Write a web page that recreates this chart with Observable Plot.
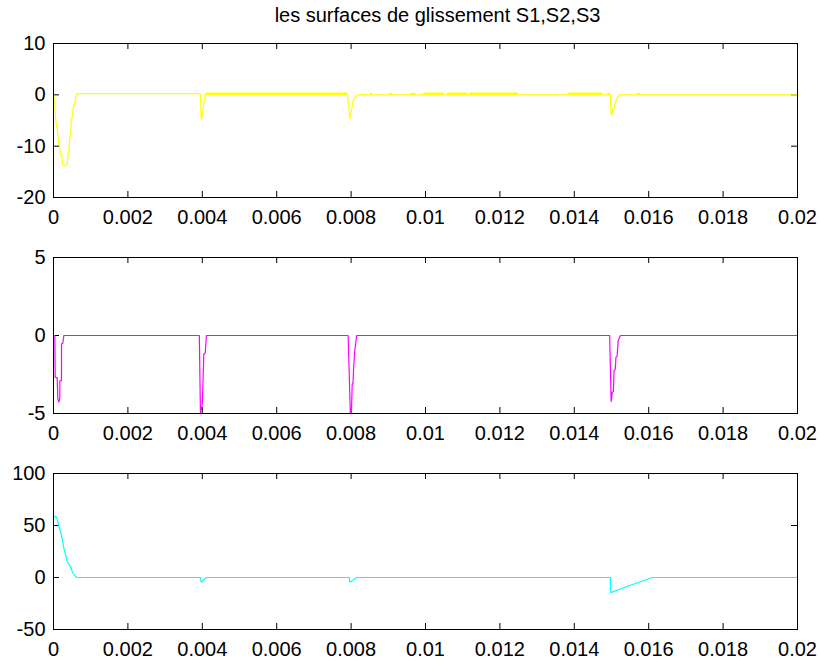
<!DOCTYPE html>
<html>
<head>
<meta charset="utf-8">
<script src="https://cdn.jsdelivr.net/npm/d3@7"></script>
<script src="https://cdn.jsdelivr.net/npm/@observablehq/plot@0.6"></script>
<style>
  body { margin: 0; background: #fff; }
  #fig { position: relative; width: 821px; height: 659px; background: #fff;
         font-family: "Liberation Sans", Arial, sans-serif; }
  #title { box-sizing: border-box; width: 821px; height: 26px; padding-top: 5px;
           padding-left: 54px; text-align: center; font-size: 20px; line-height: 20px; color: #000; white-space: nowrap; }
  #fig svg { display: block; }
</style>
</head>
<body>
<div id="fig">
  <div id="title">les surfaces de glissement S1,S2,S3</div>
</div>
<script>
// Time axis (seconds)
const xTicks = [0, 0.002, 0.004, 0.006, 0.008, 0.01, 0.012, 0.014, 0.016, 0.018, 0.02];
const xTickLabels = ["0", "0.002", "0.004", "0.006", "0.008", "0.01", "0.012", "0.014", "0.016", "0.018", "0.02"];

// S1 sliding surface
const s1Time  = [0, 0.00004, 0.00004, 0.00008, 0.00010, 0.00014, 0.00016, 0.00018, 0.00022, 0.00024, 0.00030, 0.00037, 0.00039, 0.00041, 0.00044, 0.00046, 0.00048, 0.00050, 0.00054, 0.00056, 0.00060, 0.00062,
                 0.00395, 0.00397, 0.00399, 0.00401, 0.00403, 0.00404, 0.00406, 0.00408, 0.00411,
                 0.00790, 0.00797, 0.00799, 0.00801, 0.00803, 0.00806, 0.00810, 0.00816,
                 0.01497, 0.01499, 0.01502, 0.01504, 0.01507, 0.01510, 0.01514, 0.01520, 0.02];
const s1Value = [0, -1.5, -3.0, -6.4, -6.4, -9.6, -9.6, -11.6, -11.6, -13.5, -13.8, -13.5, -11.6, -11.6, -8.0, -8.0, -4.6, -4.6, -2.0, -2.0, -0.5, 0.25,
                 0.25, -4.7, -4.5, -2.8, -2.8, -1.2, -1.2, 0.1, 0.2,
                 0.1, -4.7, -4.2, -3.0, -2.2, -1.0, -0.5, 0.0,
                 0.0, -3.96, -3.5, -2.6, -2.6, -1.5, -0.8, 0.0, 0.0];
// S1 chattering intervals around zero (start, end, low, high)
const s1ChatterStart = [0.00411, 0.00852, 0.00903, 0.00960, 0.00995, 0.01060, 0.01120, 0.01385, 0.01490, 0.01570];
const s1ChatterEnd   = [0.00790, 0.00858, 0.00912, 0.00975, 0.01050, 0.01115, 0.01250, 0.01476, 0.01497, 0.01578];
const s1ChatterLow   = [-0.1, -0.05, -0.05, -0.05, -0.1, -0.1, -0.1, -0.1, -0.1, -0.05];
const s1ChatterHigh  = [0.35, 0.3, 0.3, 0.3, 0.35, 0.35, 0.35, 0.35, 0.3, 0.3];

// S2 sliding surface
const s2Time  = [0, 0.000036, 0.000045, 0.00008, 0.00010, 0.000116, 0.000143, 0.00017, 0.00017, 0.000215, 0.000215, 0.00025, 0.000278,
                 0.00392, 0.00395, 0.00400, 0.00402, 0.00404, 0.00408, 0.00411,
                 0.00792, 0.00798, 0.00801, 0.00803, 0.00805, 0.00807, 0.00810, 0.00815,
                 0.01495, 0.01499, 0.01501, 0.01502, 0.01505, 0.01507, 0.01510, 0.01512, 0.01515, 0.01518, 0.01524, 0.02];
const s2Value = [0, 0, -2.67, -2.7, -2.7, -4.06, -4.27, -4.0, -2.9, -2.9, -0.53, -0.5, 0,
                 0, -5.0, -4.4, -2.9, -1.2, -1.1, 0,
                 0, -5.0, -4.9, -3.1, -3.1, -2.0, -0.96, 0,
                 0, -4.23, -3.9, -3.63, -3.6, -2.24, -2.2, -1.39, -1.35, -0.32, 0, 0];

// S3 sliding surface
const s3Time  = [0, 0.00006, 0.00010, 0.00014, 0.00019, 0.00024, 0.00028, 0.00033, 0.00037, 0.00042, 0.00046, 0.00050, 0.00053, 0.00058, 0.00062,
                 0.00395, 0.00397, 0.00411,
                 0.00795, 0.00797, 0.00815,
                 0.01497, 0.01498, 0.01542, 0.01609, 0.02];
const s3Value = [59.3, 58.5, 56.4, 50, 44, 36, 28, 21, 15.4, 12, 10.6, 6, 4, 1.5, 0,
                 0, -4.5, 0,
                 0, -4.5, 0,
                 0, -14.5, -8.6, 0, 0];

const s1Ticks = [-20, -10, 0, 10];
const s2Ticks = [-5, 0, 5];
const s3Ticks = [-50, 0, 50, 100];

const W = 821, ML = 53, MR = 24, TICK = 6;

const toPoints = (t, v) => t.map((d, i) => ({t: d, v: v[i]}));

function subplot({points, color, yDomain, yTicks, height, marginTop, marginBottom, bands = []}) {
  const frameH = height - marginTop - marginBottom;
  const frameW = W - ML - MR;
  return Plot.plot({
    width: W, height, marginLeft: ML, marginRight: MR, marginTop, marginBottom,
    style: {fontSize: "20px", fontFamily: "Liberation Sans, Arial, sans-serif", background: "#fff", color: "#000"},
    x: {domain: [0, 0.02], label: null},
    y: {domain: yDomain, label: null},
    marks: [
      // inward ticks on all four sides
      Plot.tickX(xTicks, {x: d => d, insetTop: frameH - TICK, stroke: "#000"}),
      Plot.tickX(xTicks, {x: d => d, insetBottom: frameH - TICK, stroke: "#000"}),
      Plot.tickY(yTicks, {y: d => d, insetRight: frameW - TICK, stroke: "#000"}),
      Plot.tickY(yTicks, {y: d => d, insetLeft: frameW - TICK, stroke: "#000"}),
      Plot.rect(bands, {x1: "t0", x2: "t1", y1: "lo", y2: "hi", fill: color}),
      Plot.line(points, {x: "t", y: "v", stroke: color, strokeWidth: 1.2}),
      Plot.frame({stroke: "#000"}),
      Plot.axisX({ticks: xTicks, tickSize: 0, tickPadding: 12, tickFormat: (d, i) => xTickLabels[i], label: null}),
      Plot.axisY({ticks: yTicks, tickSize: 0, tickPadding: 8, tickFormat: d => String(d), label: null})
    ]
  });
}

const s1Bands = s1ChatterStart.map((d, i) => ({t0: d, t1: s1ChatterEnd[i], lo: s1ChatterLow[i], hi: s1ChatterHigh[i]}));

const fig = document.getElementById("fig");
fig.append(subplot({points: toPoints(s1Time, s1Value), color: "#ffff00", yDomain: [-20, 10], yTicks: s1Ticks,
                    height: 210, marginTop: 17, marginBottom: 39, bands: s1Bands}));
fig.append(subplot({points: toPoints(s2Time, s2Value), color: "#ff00ff", yDomain: [-5, 5], yTicks: s2Ticks,
                    height: 214, marginTop: 21, marginBottom: 37}));
fig.append(subplot({points: toPoints(s3Time, s3Value), color: "#00ffff", yDomain: [-50, 100], yTicks: s3Ticks,
                    height: 209, marginTop: 23, marginBottom: 30}));
</script>
</body>
</html>
